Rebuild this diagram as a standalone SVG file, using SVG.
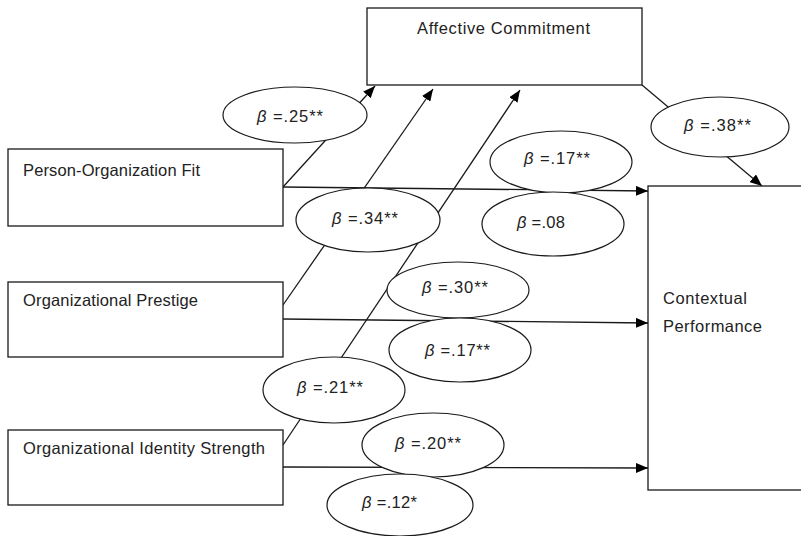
<svg xmlns="http://www.w3.org/2000/svg" width="801" height="536" viewBox="0 0 801 536">
<defs>
<marker id="ah" markerWidth="12" markerHeight="10" refX="12" refY="5" orient="auto" markerUnits="userSpaceOnUse">
<path d="M0,0 L12,5 L0,10 Z" fill="#000"/>
</marker>
<style>
.box{fill:#fff;stroke:#1a1a1a;stroke-width:1.3}
.el{fill:#fff;stroke:#1a1a1a;stroke-width:1.2}
.ln{fill:none;stroke:#1a1a1a;stroke-width:1.3}
.t{font-family:"Liberation Sans",Arial,sans-serif;font-size:16.5px;fill:#222}
.b{font-style:italic}
</style>
</defs>
<rect width="801" height="536" fill="#fff"/>
<g id="connectors">
<line class="ln" x1="283" y1="187" x2="375" y2="86" marker-end="url(#ah)"/>
<line class="ln" x1="283" y1="305" x2="433" y2="89" marker-end="url(#ah)"/>
<line class="ln" x1="283" y1="445" x2="520" y2="90" marker-end="url(#ah)"/>
<line class="ln" x1="283" y1="187" x2="648" y2="191" marker-end="url(#ah)"/>
<line class="ln" x1="283" y1="319" x2="648" y2="323" marker-end="url(#ah)"/>
<line class="ln" x1="283" y1="467" x2="648" y2="468" marker-end="url(#ah)"/>
<line class="ln" x1="642" y1="85" x2="762" y2="186" marker-end="url(#ah)"/>
</g>
<g id="affective-commitment">
<rect class="box" x="367" y="8" width="275" height="77"/>
<text class="t" x="417" y="34" textLength="173" lengthAdjust="spacing">Affective Commitment</text>
</g>
<g id="person-organization-fit">
<rect class="box" x="8" y="149" width="275" height="77"/>
<text class="t" x="23" y="176" textLength="177" lengthAdjust="spacing">Person-Organization Fit</text>
</g>
<g id="organizational-prestige">
<rect class="box" x="8" y="282" width="275" height="75"/>
<text class="t" x="23" y="306" textLength="175" lengthAdjust="spacing">Organizational Prestige</text>
</g>
<g id="organizational-identity-strength">
<rect class="box" x="8" y="430" width="275" height="75"/>
<text class="t" x="23" y="454" textLength="242" lengthAdjust="spacing">Organizational Identity Strength</text>
</g>
<g id="contextual-performance">
<rect class="box" x="648" y="186" width="160" height="304"/>
<text class="t" x="663" y="304" textLength="84" lengthAdjust="spacing">Contextual</text>
<text class="t" x="663" y="332" textLength="99" lengthAdjust="spacing">Performance</text>
</g>
<g id="label-25">
<ellipse class="el" cx="295" cy="115" rx="72" ry="28"/>
<text class="t" x="257" y="122" textLength="66" lengthAdjust="spacing"><tspan class="b">β</tspan> =.25**</text>
</g>
<g id="label-38">
<ellipse class="el" cx="720" cy="127" rx="69" ry="30"/>
<text class="t" x="684" y="131" textLength="67" lengthAdjust="spacing"><tspan class="b">β</tspan> =.38**</text>
</g>
<g id="label-17a">
<ellipse class="el" cx="561" cy="162" rx="71" ry="31"/>
<text class="t" x="524" y="164" textLength="66" lengthAdjust="spacing"><tspan class="b">β</tspan> =.17**</text>
</g>
<g id="label-08">
<ellipse class="el" cx="553" cy="224" rx="71" ry="32"/>
<text class="t" x="517" y="228" textLength="48" lengthAdjust="spacing"><tspan class="b">β</tspan> =.08</text>
</g>
<g id="label-34">
<ellipse class="el" cx="368" cy="220" rx="72" ry="32"/>
<text class="t" x="332" y="224" textLength="66" lengthAdjust="spacing"><tspan class="b">β</tspan> =.34**</text>
</g>
<g id="label-30">
<ellipse class="el" cx="458" cy="290" rx="71" ry="28"/>
<text class="t" x="422" y="293" textLength="66" lengthAdjust="spacing"><tspan class="b">β</tspan> =.30**</text>
</g>
<g id="label-17b">
<ellipse class="el" cx="460" cy="350" rx="71" ry="32"/>
<text class="t" x="425" y="356" textLength="65" lengthAdjust="spacing"><tspan class="b">β</tspan> =.17**</text>
</g>
<g id="label-21">
<ellipse class="el" cx="334" cy="390" rx="71" ry="33"/>
<text class="t" x="297" y="393" textLength="66" lengthAdjust="spacing"><tspan class="b">β</tspan> =.21**</text>
</g>
<g id="label-20">
<ellipse class="el" cx="433" cy="445" rx="71" ry="32"/>
<text class="t" x="395" y="449" textLength="66" lengthAdjust="spacing"><tspan class="b">β</tspan> =.20**</text>
</g>
<g id="label-12">
<ellipse class="el" cx="400" cy="505" rx="73" ry="31"/>
<text class="t" x="362" y="508" textLength="55" lengthAdjust="spacing"><tspan class="b">β</tspan> =.12*</text>
</g>
</svg>
